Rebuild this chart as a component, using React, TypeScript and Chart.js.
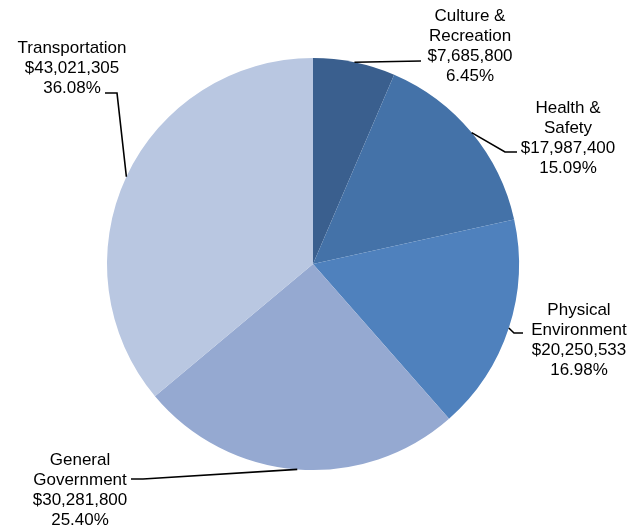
import React, { useEffect, useRef } from "react";
import { Chart, registerables } from "chart.js";

Chart.register(...registerables);

const categories: string[][] = [
  ["Culture &", "Recreation"],
  ["Health &", "Safety"],
  ["Physical", "Environment"],
  ["General", "Government"],
  ["Transportation"],
];
const values: number[] = [7685800, 17987400, 20250533, 30281800, 43021305];
const valueLabels: string[] = ["$7,685,800", "$17,987,400", "$20,250,533", "$30,281,800", "$43,021,305"];
const percentLabels: string[] = ["6.45%", "15.09%", "16.98%", "25.40%", "36.08%"];
const colors: string[] = ["#3A5F8E", "#4472A8", "#4F81BD", "#95A9D1", "#B9C7E1"];

// label layout: text centre x, first line centre y, leader points (after arc anchor)
const labelLayout = [
  { x: 470, y: 16, pts: [[421, 61]] },
  { x: 568, y: 108, pts: [[505, 152], [517, 152]] },
  { x: 579, y: 310, pts: [[514, 333], [523, 333]] },
  { x: 80, y: 460, pts: [[143, 479], [131, 479]] },
  { x: 72, y: 48, pts: [[117, 93], [105, 93]] },
];

const labelPlugin = {
  id: "outerLabels",
  afterDatasetsDraw(chart: any) {
    const ctx = chart.ctx;
    const meta = chart.getDatasetMeta(0);
    ctx.save();
    meta.data.forEach((arc: any, i: number) => {
      const { x, y, startAngle, endAngle, outerRadius } = arc.getProps(
        ["x", "y", "startAngle", "endAngle", "outerRadius"],
        true
      );
      const mid = (startAngle + endAngle) / 2;
      const ax = x + Math.cos(mid) * outerRadius;
      const ay = y + Math.sin(mid) * outerRadius;
      const lay = labelLayout[i];
      ctx.beginPath();
      ctx.strokeStyle = "#000";
      ctx.lineWidth = 1.6;
      ctx.moveTo(ax, ay);
      lay.pts.forEach((p) => ctx.lineTo(p[0], p[1]));
      ctx.stroke();
      const lines = [...categories[i], valueLabels[i], percentLabels[i]];
      ctx.fillStyle = "#000";
      ctx.font = '17px "Liberation Sans", Arial, sans-serif';
      ctx.textAlign = "center";
      ctx.textBaseline = "middle";
      lines.forEach((t, k) => ctx.fillText(t, lay.x, lay.y + k * 20));
    });
    ctx.restore();
  },
};

export default function App() {
  const ref = useRef<HTMLCanvasElement | null>(null);
  useEffect(() => {
    document.body.style.margin = "0";
    if (!ref.current) return;
    const chart = new Chart(ref.current, {
      type: "pie",
      data: {
        labels: categories.map((c) => c.join(" ")),
        datasets: [
          {
            data: values,
            backgroundColor: colors,
            borderWidth: 0,
          },
        ],
      },
      options: {
        animation: false,
        responsive: false,
        layout: { padding: { top: 58, bottom: 57, left: 107, right: 123 } },
        plugins: {
          legend: { display: false },
          tooltip: { enabled: false },
        },
      },
      plugins: [labelPlugin],
    });
    return () => chart.destroy();
  }, []);
  return (
    <div style={{ position: "absolute", left: 0, top: 0, width: 642, height: 527, background: "#fff" }}>
      <canvas ref={ref} width={642} height={527} style={{ width: 642, height: 527 }} />
    </div>
  );
}
